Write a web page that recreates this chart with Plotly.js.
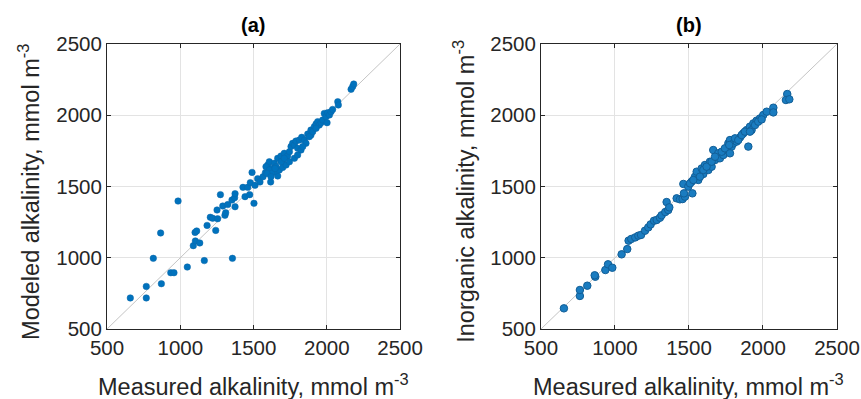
<!DOCTYPE html>
<html><head><meta charset="utf-8">
<script src="https://cdn.plot.ly/plotly-3.0.1.min.js"></script>
<style>html,body{margin:0;padding:0;background:#fff}#g{width:861px;height:399px}</style>
</head><body><div id="g"></div>
<script>
// Panel (a): measured vs modeled alkalinity
const measuredA = [659,768,768,871,816,866,985,935,957,1048,1164,1356,1089,1103,1133,1101,1112,1183,1242,1205,1221,1255,1251,1290,1305,1310,1274,1324,1353,1371,1374,1374,1442,1474,1428,1460,1478,1503,1490,1510,1528,1544,1565,1581,1597,1617,1608,1631,
1642,1665,1688,1699,1710,1733,1745,1756,1767,1779,1790,1801,1813,1824,1829,1847,1858,1870,1892,1892,1915,1927,1938,1949,1961,1972,1983,1995,2006,2002,2018,2029,2040,2075,2079,2166,2177,2184,
1665,1642,1676,1699,1722,1745,1779,1801,1836,1881,1904,1927,1585,1608,1624,1654,1688,1710,1592,1619,1647];
const modeledA = [718,718,799,818,996,1174,1398,895,895,935,980,996,1085,1118,1104,1178,1188,1227,1192,1284,1277,1274,1335,1363,1298,1316,1443,1373,1405,1422,1450,1358,1429,1443,1494,1494,1527,1382,1599,1508,1555,1532,1569,1597,1651,1532,1674,1627,
1663,1698,1714,1674,1733,1714,1744,1780,1803,1791,1819,1768,1826,1756,1845,1826,1803,1868,1896,1861,1920,1939,1955,1931,1948,1967,2013,1990,2018,1948,2002,2025,2041,2095,2072,2182,2201,2219,
1574,1604,1616,1634,1651,1674,1698,1721,1780,1850,1885,1908,1639,1616,1592,1639,1674,1698,1592,1569,1627];

// Panel (b): measured vs inorganic alkalinity
const measuredB = [655,763,763,813,867,863,935,953,982,1045,1083,1092,1110,1137,1158,1176,1203,1225,1241,1264,1282,1304,1315,1340,1349,1360,1367,1417,1439,1457,1473,1466,1462,1523,1495,1518,1541,1563,1552,1586,1597,1608,1631,1642,1653,1664,1676,1687,1698,1709,1732,1755,1766,1777,1788,1800,1822,1845,1867,1901,1890,1912,1923,1935,1957,1980,2002,2025,2070,2070,2164,2155,2178,
1507,1529,1574,1597,1619,1653,1676,1721,1743,1772,1811,1833,1856,1878,1912,1946,1968,1991,1777];
const inorganicB = [645,732,774,804,867,877,914,954,930,1024,1061,1120,1132,1143,1155,1160,1190,1213,1234,1260,1265,1281,1298,1321,1391,1335,1354,1417,1410,1412,1429,1452,1518,1452,1499,1534,1569,1546,1604,1627,1588,1651,1616,1674,1639,1756,1686,1709,1733,1698,1721,1756,1803,1826,1780,1803,1815,1845,1873,1780,1896,1920,1896,1943,1962,1978,2002,2025,2053,2020,2149,2107,2112,
1522,1546,1569,1616,1639,1674,1709,1744,1768,1791,1838,1826,1861,1885,1885,1931,1955,1971,1733];

const oneToOne = [500, 2500];
const tickValues = [500, 1000, 1500, 2000, 2500];
const tickLabels = ['500', '1000', '1500', '2000', '2500'];

const FONT = 'Liberation Sans, Arial, Helvetica, sans-serif';
const axisCommon = {
  range: [500, 2500], tickvals: tickValues, ticktext: tickLabels,
  ticks: 'inside', ticklen: 4, tickcolor: '#262626',
  showline: true, linecolor: '#262626', linewidth: 1, mirror: 'ticks',
  showgrid: true, gridcolor: '#e3e3e3', gridwidth: 1, zeroline: false,
  tickfont: {family: FONT, size: 20.5, color: '#262626'}, fixedrange: true
};

const traces = [
  {x: oneToOne, y: oneToOne, mode: 'lines', line: {color: '#c4c4c4', width: 1}, xaxis: 'x', yaxis: 'y', hoverinfo: 'skip'},
  {x: measuredA, y: modeledA, mode: 'markers', type: 'scatter',
   marker: {color: '#0072BD', size: 6.5, line: {color: '#0a66a8', width: 0.5}}, xaxis: 'x', yaxis: 'y'},
  {x: oneToOne, y: oneToOne, mode: 'lines', line: {color: '#c4c4c4', width: 1}, xaxis: 'x2', yaxis: 'y2', hoverinfo: 'skip'},
  {x: measuredB, y: inorganicB, mode: 'markers', type: 'scatter',
   marker: {color: '#1a7cc0', size: 7.5, line: {color: '#125f98', width: 1}}, xaxis: 'x2', yaxis: 'y2'}
];

const ann = (text, x, y, size, extra) => Object.assign({text: text, xref: 'paper', yref: 'paper', x: x, y: y,
  xanchor: 'center', yanchor: 'middle', showarrow: false, font: {size: size, family: FONT, color: '#262626'}}, extra || {});

const layout = {
  width: 861, height: 399, margin: {l: 0, r: 0, t: 0, b: 0},
  paper_bgcolor: '#fff', plot_bgcolor: '#fff', showlegend: false,
  font: {family: FONT, color: '#262626'},
  xaxis: Object.assign({}, axisCommon, {domain: [0.1243, 0.4646], anchor: 'y'}),
  yaxis: Object.assign({}, axisCommon, {domain: [0.1754, 0.8897], anchor: 'x'}),
  xaxis2: Object.assign({}, axisCommon, {domain: [0.6283, 0.9721], anchor: 'y2'}),
  yaxis2: Object.assign({}, axisCommon, {domain: [0.1754, 0.8897], anchor: 'x2'}),
  annotations: [
    ann('<b>(a)</b>', 0.2944, 0.937, 20, {font: {size: 20, family: FONT, color: '#000'}}),
    ann('<b>(b)</b>', 0.8002, 0.937, 20, {font: {size: 20, family: FONT, color: '#000'}}),
    ann('Measured alkalinity, mmol m<sup>-3</sup>', 0.2944, 0.035, 23.5),
    ann('Measured alkalinity, mmol m<sup>-3</sup>', 0.8002, 0.035, 23.5),
    ann('Modeled alkalinity, mmol m<sup>-3</sup>', 0.033, 0.52, 23.5, {textangle: -90}),
    ann('Inorganic alkalinity, mmol m<sup>-3</sup>', 0.538, 0.52, 23.5, {textangle: -90})
  ]
};

Plotly.newPlot('g', traces, layout, {displayModeBar: false, staticPlot: true});
</script></body></html>
